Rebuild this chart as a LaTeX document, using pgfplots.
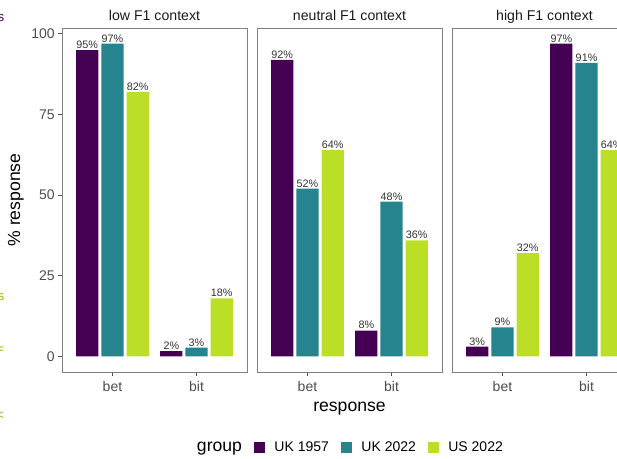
\documentclass[border=0pt]{standalone}
\usepackage{pgfplots}
\usepackage{pgfplotstable}
\pgfplotsset{compat=1.18}
\usepackage{fontspec}
\setmainfont{Liberation Sans}
\definecolor{c1}{HTML}{440154}
\definecolor{c2}{HTML}{25848E}
\definecolor{c3}{HTML}{BBDF27}
\definecolor{axgray}{HTML}{808080}
\definecolor{tickgray}{HTML}{4D4D4D}
\definecolor{lblgray}{HTML}{333333}
\definecolor{strayg}{HTML}{9DB514}

\pgfplotstableread{
x uka ukb usb
1 95 97 82
2 1.6 2.7 18
}\lowtab
\pgfplotstableread{
x uka ukb usb
1 92 52 64
2 8 48 36
}\neutab
\pgfplotstableread{
x uka ukb usb
1 3 9 32
2 97 91 64
}\hightab

\pgfplotsset{
  panel/.style={
    scale only axis, width=138.75pt, height=258pt,
    anchor=south west,
    xmin=0.4, xmax=2.6, ymin=-4.85, ymax=101.85,
    axis line style={draw=axgray, line width=0.75pt},
    xtick={1,2}, xticklabels={bet,bit}, xtick pos=bottom,
    tick align=outside, major tick length=3pt,
    tick style={draw=tickgray, line width=0.75pt},
    ticklabel style={font=\fontsize{10.5}{12}\selectfont, text=tickgray, inner sep=0pt},
    xticklabel style={anchor=base, yshift=-11.25pt},
    yticklabel style={anchor=east, xshift=-2.25pt},
    /pgf/number format/assume math mode=true,
    title style={at={(0.5,1)}, anchor=base, yshift=0pt, inner sep=0pt,
      font=\fontsize{10.6}{12}\selectfont, text=black!90},
    ybar, bar width=0.265,
    nodes near coords={\pgfmathprintnumber[fixed,precision=0]{\pgfplotspointmeta}\%},
    every node near coord/.append style={font=\fontsize{8.1}{9}\selectfont,
      text=lblgray, anchor=base, yshift=1.2pt, inner sep=0pt},
    legend image code/.code={\path[#1,draw=none] (0pt,-4.3pt) rectangle (8.6pt,4.3pt);},
  },
  b1/.style={fill=c1, draw=none, bar shift=-0.3},
  b2/.style={fill=c2, draw=none, bar shift=0},
  b3/.style={fill=c3, draw=none, bar shift=0.3},
}

\begin{document}
\begin{tikzpicture}[x=0.75pt,y=0.75pt]
\begin{axis}[panel, at={(46.5pt,64.5pt)}, ytick={0,25,50,75,100}, ytick pos=left,
  title={low F1 context}]
\addplot[b1] table[x=x,y=uka] {\lowtab};
\addplot[b2] table[x=x,y=ukb] {\lowtab};
\addplot[b3] table[x=x,y=usb] {\lowtab};
\end{axis}
\begin{axis}[panel, at={(192.75pt,64.5pt)}, ytick=\empty,
  title={neutral F1 context},
  legend columns=-1,
  legend style={draw=none, fill=none, inner sep=0pt, outer sep=0pt,
    at={(axis description cs:-0.373,-0.2195)}, anchor=west,
    nodes={inner sep=0pt, font=\fontsize{10.5}{12}\selectfont},
    /tikz/every odd column/.append style={column sep=6.75pt},
    /tikz/every even column/.append style={column sep=9pt}}]
\addlegendimage{empty legend}
\addlegendentry{\fontsize{13.2}{15}\selectfont group}
\addplot[b1] table[x=x,y=uka] {\neutab};
\addlegendentry{UK 1957}
\addplot[b2] table[x=x,y=ukb] {\neutab};
\addlegendentry{UK 2022}
\addplot[b3] table[x=x,y=usb] {\neutab};
\addlegendentry{US 2022}
\end{axis}
\begin{axis}[panel, at={(339pt,64.5pt)}, ytick=\empty,
  title={high F1 context}]
\addplot[b1] table[x=x,y=uka] {\hightab};
\addplot[b2] table[x=x,y=ukb] {\hightab};
\addplot[b3] table[x=x,y=usb] {\hightab};
\end{axis}
\node[rotate=90, anchor=base, font=\fontsize{13.2}{15}\selectfont] at (20,258) {\% response};
\node[anchor=base, font=\fontsize{13.2}{15}\selectfont] at (349.5,47) {response};
\node[anchor=base west, inner sep=0pt, font=\fontsize{10}{12}\selectfont, text=c1] at (-2.7,436) {s};
\node[anchor=base west, inner sep=0pt, font=\fontsize{10}{12}\selectfont, text=strayg] at (-2.7,158) {s};
\node[anchor=base west, inner sep=0pt, font=\fontsize{10}{12}\selectfont, text=strayg] at (-4,105) {=};
\node[anchor=base west, inner sep=0pt, font=\fontsize{10}{12}\selectfont, text=strayg] at (-4,39) {<};
\pgfresetboundingbox
\useasboundingbox (0,0) rectangle (617,458);
\end{tikzpicture}
\end{document}
